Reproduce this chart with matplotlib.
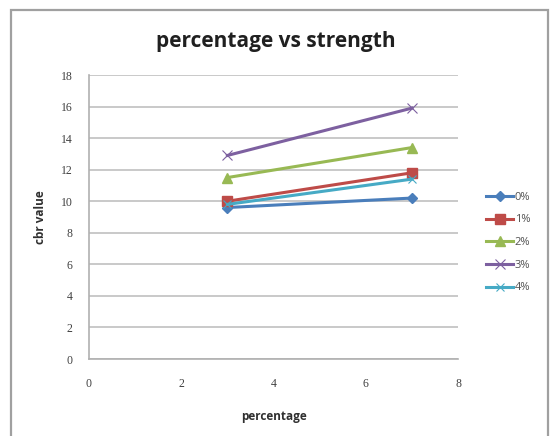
import matplotlib.pyplot as plt
from matplotlib.patches import Rectangle

percent = [3, 7]
series_names = ["0%", "1%", "2%", "3%", "4%"]
cbr_0 = [9.6, 10.2]
cbr_1 = [10.0, 11.8]
cbr_2 = [11.5, 13.4]
cbr_3 = [12.9, 15.9]
cbr_4 = [9.8, 11.4]

colors = ["#4a7ebb", "#be4b48", "#98b954", "#7d60a0", "#46aac5"]
markers = ["D", "s", "^", "x", "x"]
sizes = [5, 6.5, 6.5, 7, 6]
edge_widths = [1.0, 1.0, 1.0, 0.8, 0.8]

fig = plt.figure(figsize=(5.51, 4.36), dpi=100)
fig.patches.append(Rectangle((11 / 551, -0.01), 537 / 551, 1 - 10 / 436 + 0.01,
                             transform=fig.transFigure, fill=False,
                             edgecolor="#a0a0a0", linewidth=1.6))

ax = fig.add_axes([89 / 551, 77 / 436, (458 - 89) / 551, (359 - 75) / 436])

for name, vals, c, m, s, ew in zip(series_names,
                                   [cbr_0, cbr_1, cbr_2, cbr_3, cbr_4],
                                   colors, markers, sizes, edge_widths):
    ax.plot(percent, vals, color=c, marker=m, markersize=s, linewidth=2.2,
            markeredgewidth=ew, label=name)

ax.set_xlim(0, 8)
ax.set_ylim(0, 18)
ax.set_xticks(range(0, 9, 2))
ax.set_yticks(range(0, 19, 2))
ax.grid(axis="y", color="#c0c0c0", linewidth=1.2)
ax.set_axisbelow(True)
for side in ["top", "right"]:
    ax.spines[side].set_visible(False)
for side in ["left", "bottom"]:
    ax.spines[side].set_color("#b0b0b0")
    ax.spines[side].set_linewidth(1.2)
ax.tick_params(length=0, labelsize=8.5, labelcolor="#404040")
ax.tick_params(axis="y", pad=12)
ax.tick_params(axis="x", pad=14)
for lbl in ax.get_xticklabels() + ax.get_yticklabels():
    lbl.set_family("Liberation Serif")

ax.set_xlabel("percentage", fontsize=8.5, fontweight="bold", family="Open Sans",
              color="#303030", labelpad=14)
ax.set_ylabel("cbr value", fontsize=8.5, fontweight="bold", family="Open Sans",
              color="#303030", labelpad=10)
fig.text(0.5, 0.892, "percentage vs strength", ha="center", fontsize=15,
         fontweight="bold", family="Open Sans", color="#202020")

leg = ax.legend(loc="center left", bbox_to_anchor=(1.05, 0.41), frameon=False,
                handlelength=2.4, labelspacing=1.05, handletextpad=0.15,
                prop={"family": "Open Sans", "size": 8})
for txt in leg.get_texts():
    txt.set_color("#505050")

fig.savefig("out.png", dpi=100)
